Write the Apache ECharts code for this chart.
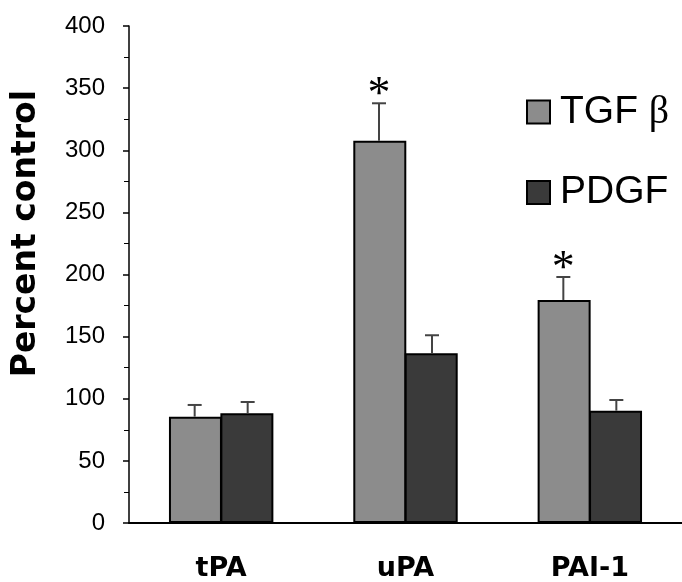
<!DOCTYPE html>
<html>
<head>
<meta charset="utf-8">
<script src="https://cdn.jsdelivr.net/npm/echarts@6/dist/echarts.min.js"></script>
<style>html,body{margin:0;padding:0;background:#fff;}#c{width:682px;height:582px;}</style>
</head>
<body>
<div id="c"></div>
<script>
const categories = ['tPA', 'uPA', 'PAI-1'];
const seriesNames = ['TGF β', 'PDGF'];
const tgfValues = [85.6, 307.7, 179.5];
const tgfErrors = [9.4, 30.1, 18.5];
const tgfSignificant = [false, true, true];
const pdgfValues = [88.3, 136.6, 90.4];
const pdgfErrors = [9.1, 14.5, 8.6];
const pdgfSignificant = [false, false, false];
const yTicks = { min: 0, max: 400, interval: 50 };

const BAR_W = 53;
const chart = echarts.init(document.getElementById('c'));

function errData(vals, errs, sig) {
  return vals.map((v, i) => [i, v, errs[i], sig[i] ? 1 : 0]);
}
function errSeries(name, vals, errs, sig, side) {
  return {
    type: 'custom',
    name: name + '_err',
    z: 5,
    silent: true,
    data: errData(vals, errs, sig),
    encode: { x: 0, y: 1 },
    renderItem: function (params, api) {
      const i = api.value(0), v = api.value(1), e = api.value(2), s = api.value(3);
      const base = api.coord([i, v]);
      const top = api.coord([i, v + e]);
      const x = base[0] + side * BAR_W / 2;
      const children = [
        { type: 'line', shape: { x1: x, y1: base[1], x2: x, y2: top[1] }, style: { stroke: '#444', lineWidth: 2 } },
        { type: 'line', shape: { x1: x - 7, y1: top[1], x2: x + 7, y2: top[1] }, style: { stroke: '#444', lineWidth: 2 } }
      ];
      if (s) {
        children.push({ type: 'text', style: { text: '*', x: x, y: top[1] + 16, align: 'center', verticalAlign: 'bottom', font: '46px "Liberation Serif"', fill: '#000' } });
      }
      return { type: 'group', children: children };
    }
  };
}

chart.setOption({
  animation: false,
  backgroundColor: '#fff',
  grid: { left: 129, top: 26, bottom: 59, right: -6 },
  legend: {
    orient: 'vertical',
    left: 526,
    top: 92,
    padding: 0,
    icon: 'rect',
    itemWidth: 23,
    itemHeight: 23,
    itemGap: 41,
    data: seriesNames,
    formatter: function (n) { return n === 'TGF β' ? '{a|TGF }{b|β}' : '{a|' + n + '}'; },
    textStyle: {
      color: '#000', padding: [0, 0, 0, 5],
      rich: {
        a: { fontFamily: 'Liberation Sans', fontSize: 39, lineHeight: 40, color: '#000' },
        b: { fontFamily: 'Liberation Serif', fontSize: 40, lineHeight: 40, color: '#000' }
      }
    }
  },
  xAxis: {
    type: 'category',
    data: categories,
    axisLine: { lineStyle: { color: '#000', width: 2 } },
    axisTick: { inside: true, length: 7, lineStyle: { color: '#000', width: 2 } },
    axisLabel: { margin: 32, fontFamily: 'DejaVu Sans', fontWeight: 'bold', fontSize: 27, color: '#000' },
    splitLine: { show: false }
  },
  yAxis: {
    type: 'value',
    min: yTicks.min, max: yTicks.max, interval: yTicks.interval,
    axisLine: { show: true, lineStyle: { color: '#000', width: 1.5 } },
    axisTick: { show: true, length: 6, lineStyle: { color: '#000', width: 1.5 } },
    minorTick: { show: true, splitNumber: 2, length: 5, lineStyle: { color: '#000', width: 1 } },
    axisLabel: { margin: 24, fontFamily: 'Liberation Sans', fontSize: 24, color: '#000' },
    splitLine: { show: false }
  },
  graphic: [{
    type: 'text',
    left: 10, top: 90,
    rotation: Math.PI / 2,
    style: { text: 'Percent control', font: 'bold 33px "DejaVu Sans"', fill: '#000' }
  }],
  series: [
    { type: 'bar', name: seriesNames[0], data: tgfValues, barWidth: BAR_W, barGap: '-3%',
      itemStyle: { color: '#8c8c8c', borderColor: '#000', borderWidth: 2 } },
    { type: 'bar', name: seriesNames[1], data: pdgfValues, barWidth: BAR_W, barGap: '-3%',
      itemStyle: { color: '#3a3a3a', borderColor: '#000', borderWidth: 2 } },
    errSeries('TGF', tgfValues, tgfErrors, tgfSignificant, -1),
    errSeries('PDGF', pdgfValues, pdgfErrors, pdgfSignificant, 1)
  ]
});
</script>
</body>
</html>
